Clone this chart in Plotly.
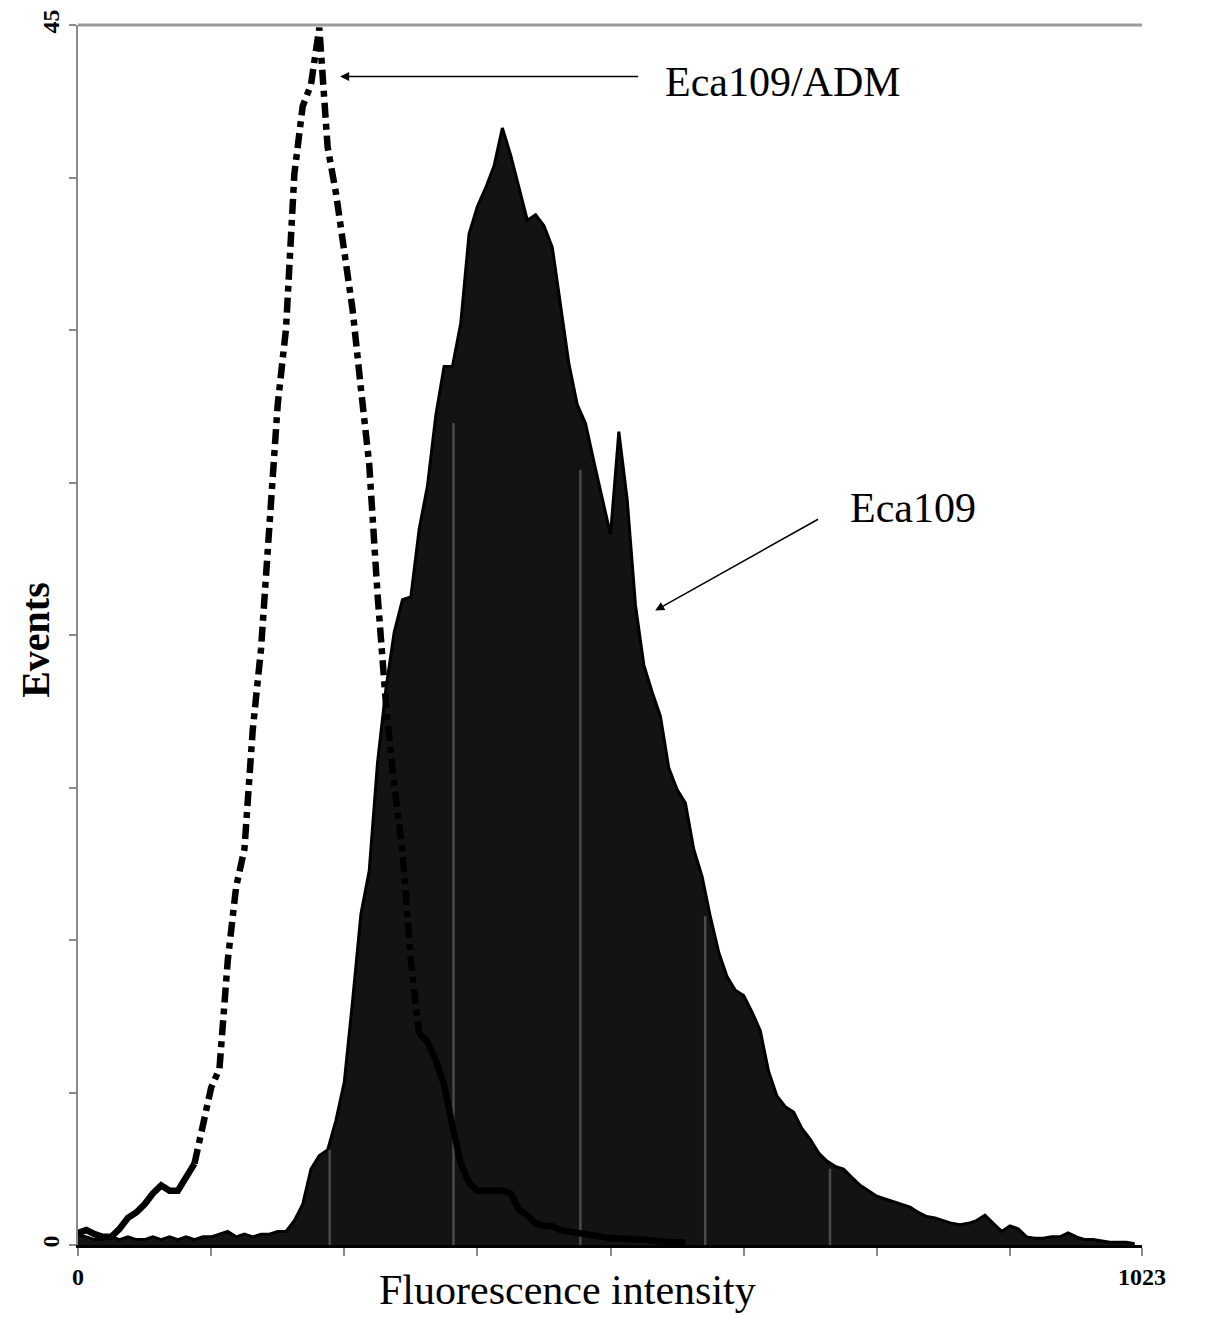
import numpy as np
import plotly.graph_objects as go

# channel grid (every 8 channels of a 1024-channel histogram)
channels = list(range(0, 1024, 8))

# Eca109 (filled histogram), events per channel
eca109 = [
    0.4, 0.3, 0.2, 0.2, 0.3, 0.2, 0.3, 0.2, 0.2, 0.3, 0.2, 0.3, 0.2, 0.3, 0.2, 0.3,
    0.3, 0.4, 0.5, 0.3, 0.4, 0.3, 0.4, 0.4, 0.5, 0.5, 0.9, 1.5, 2.8, 3.3, 3.5, 4.6,
    6.0, 9.0, 12.2, 13.8, 17.8, 20.5, 22.6, 23.8, 23.9, 26.4, 28.0, 30.6, 32.4, 32.4, 34.0, 37.3,
    38.3, 39.0, 39.8, 41.2, 40.2, 39.0, 37.8, 38.0, 37.6, 36.8, 34.6, 32.5, 31.0, 30.3, 28.9, 27.6,
    26.2, 30.0, 27.5, 23.6, 21.4, 20.4, 19.5, 17.6, 16.8, 16.3, 14.6, 13.6, 12.1, 10.8, 9.9, 9.4,
    9.2, 8.6, 7.9, 6.4, 5.5, 5.1, 4.9, 4.3, 3.9, 3.4, 3.1, 2.9, 2.8, 2.5, 2.2, 2.0,
    1.8, 1.7, 1.6, 1.5, 1.4, 1.2, 1.05, 1.0, 0.9, 0.8, 0.75, 0.8, 0.9, 1.1, 0.8, 0.5,
    0.7, 0.6, 0.3, 0.25, 0.25, 0.3, 0.3, 0.45, 0.3, 0.2, 0.2, 0.15, 0.1, 0.1, 0.1, 0.05,
]

# Eca109/ADM (dash-dot outline), events per channel (channels 0..632)
eca109_adm = [
    0.45, 0.55, 0.4, 0.3, 0.3, 0.6, 1.0, 1.2, 1.5, 1.9, 2.2, 2.0, 2.0, 2.5, 3.0, 4.4,
    5.8, 6.5, 10.5, 13.2, 14.6, 19.0, 22.0, 26.5, 31.0, 33.8, 39.5, 42.0, 42.8, 44.9, 40.5, 38.8,
    36.5, 34.5, 31.6, 28.8, 24.0, 20.0, 17.0, 14.5, 10.5, 7.8, 7.5, 6.8, 5.9, 4.4, 3.0, 2.3,
    2.0, 2.0, 2.0, 2.0, 1.9, 1.3, 1.1, 0.8, 0.7, 0.7, 0.55, 0.5, 0.45, 0.35, 0.3, 0.3,
    0.25, 0.25, 0.2, 0.2, 0.2, 0.15, 0.15, 0.1, 0.1, 0.1,
]

# faint seams visible inside the filled histogram
seam_channels = [242, 361, 483, 603, 723]

SERIF = "Liberation Serif, Times New Roman, serif"

fig = go.Figure()

fig.add_trace(go.Scatter(
    x=channels, y=eca109, mode="lines", line=dict(color="#000000", width=3),
    fill="tozeroy", fillcolor="#131313", hoverinfo="skip", showlegend=False,
))

# seams drawn from the histogram heights
seam_x, seam_y = [], []
for c in seam_channels:
    top = float(np.interp(c, channels, eca109)) * 0.93
    seam_x += [c, c, None]
    seam_y += [0, top, None]
fig.add_trace(go.Scatter(
    x=seam_x, y=seam_y, mode="lines", line=dict(color="#4a4a4a", width=2.5),
    hoverinfo="skip", showlegend=False,
))

# ADM curve: solid tails, dash-dot on the steep part
adm_x = channels[:len(eca109_adm)]
dash_from, dash_to = 112, 328
parts = [
    ([c for c in adm_x if c <= dash_from], "solid"),
    ([c for c in adm_x if dash_from <= c <= dash_to], "15px,6px,6px,6px"),
    ([c for c in adm_x if c >= dash_to], "solid"),
]
for xs, dash in parts:
    ys = [eca109_adm[adm_x.index(c)] for c in xs]
    fig.add_trace(go.Scatter(
        x=xs, y=ys, mode="lines", line=dict(color="#000000", width=6.5, dash=dash),
        hoverinfo="skip", showlegend=False,
    ))

x_ticks = list(range(0, 1024, 128)) + [1023]
x_text = ["0"] + [""] * 7 + ["1023"]
y_ticks = [i * 45 / 8 for i in range(9)]
y_text = ["0"] + [""] * 7 + ["45"]

# page body adds 8px offset; margins compensate so the plot lands at 78..1142 x 25..1245
fig.update_layout(
    width=1205, height=1333,
    margin=dict(l=70, r=71, t=17, b=96),
    paper_bgcolor="white", plot_bgcolor="white",
    font=dict(family=SERIF, color="black"),
    xaxis=dict(
        range=[0, 1023], showgrid=False, zeroline=False, automargin=False,
        showline=True, linecolor="#000000", linewidth=3,
        ticks="outside", ticklen=8, tickwidth=2, tickcolor="#8a8a8a",
        tickvals=x_ticks, ticktext=x_text,
        tickfont=dict(family=SERIF, size=24, weight="bold"),
    ),
    yaxis=dict(
        range=[0, 45], showgrid=False, zeroline=False, automargin=False,
        showline=True, linecolor="#8a8a8a", linewidth=2,
        ticks="outside", ticklen=7, tickwidth=2, tickcolor="#8a8a8a",
        tickvals=y_ticks, ticktext=y_text, tickangle=-90,
        tickfont=dict(family=SERIF, size=24, weight="bold"),
    ),
    shapes=[dict(type="line", xref="paper", yref="paper", x0=0, x1=1, y0=1, y1=1,
                 line=dict(color="#9a9a9a", width=3))],
)

# arrows and labels
fig.add_annotation(x=252, y=43.1, ax=540, ay=43.1, xref="x", yref="y", axref="x", ayref="y",
                   text="", showarrow=True, arrowhead=2, arrowsize=1.2, arrowwidth=1.5,
                   arrowcolor="black")
fig.add_annotation(x=562, y=42.9, xref="x", yref="y", text="Eca109/ADM", showarrow=False,
                   xanchor="left", yanchor="middle", font=dict(family=SERIF, size=42))
fig.add_annotation(x=555, y=23.4, ax=713, ay=26.8, xref="x", yref="y", axref="x", ayref="y",
                   text="", showarrow=True, arrowhead=2, arrowsize=1.2, arrowwidth=1.5,
                   arrowcolor="black")
fig.add_annotation(x=740, y=27.2, xref="x", yref="y", text="Eca109", showarrow=False,
                   xanchor="left", yanchor="middle", font=dict(family=SERIF, size=42))

# axis titles
fig.add_annotation(x=-0.0395, y=0.496, xref="paper", yref="paper", text="Events", textangle=-90,
                   showarrow=False, xanchor="center", yanchor="middle",
                   font=dict(family=SERIF, size=40, weight="bold"))
fig.add_annotation(x=0.4596, y=-0.037, xref="paper", yref="paper", text="Fluorescence intensity",
                   showarrow=False, xanchor="center", yanchor="middle",
                   font=dict(family=SERIF, size=42))

fig.write_html("out.html")
